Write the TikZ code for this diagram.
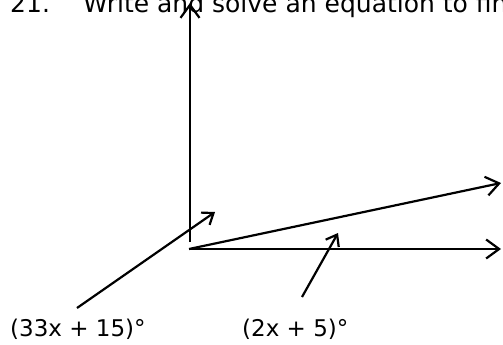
\documentclass[tikz,border=0pt]{standalone}
\usepackage{fontspec}
\setmainfont{DejaVu Sans}
\usetikzlibrary{arrows.meta}
\tikzset{
  ray/.style={line width=2.2pt, -{Straight Barb[length=13pt,width=19pt,line width=2.2pt]}},
  pointer/.style={line width=2.2pt, -{Straight Barb[length=10pt,width=15pt,line width=2.2pt]}},
  lbl/.style={inner sep=0pt, anchor=base west, font=\fontsize{23}{27}\selectfont},
  title/.style={inner sep=0pt, anchor=base west, font=\fontsize{25}{30}\selectfont}
}
\begin{document}
\begin{tikzpicture}[x=1pt,y=-1pt]
\useasboundingbox[fill=white] (0,0) rectangle (503,345);
% title (cut off at top, as in the reference)
\node[title] (num) at (10,13) {21.};
\node[title] (ttl) at (83,13) {Write and solve an equation to find};
% points
\coordinate (O) at (189,249);
\coordinate (Vb) at (190,242);
\coordinate (V) at (190,3);
\coordinate (H) at (501,249);
\coordinate (R) at (501,183);
% rays
\draw[ray] (Vb) -- (V);
\draw[ray] (O) -- (H);
\draw[ray] (O) -- (R);
% labels
\node[lbl] (L1) at (10,336) {(33x + 15)°};
\node[lbl] (L2) at (242,336) {(2x + 5)°};
\coordinate (P1s) at (77,308);
\coordinate (P1e) at (215,212);
\coordinate (P2s) at (302,297);
\coordinate (P2e) at (338,233);
\draw[pointer] (P1s) -- (P1e);
\draw[pointer] (P2s) -- (P2e);
\end{tikzpicture}
\end{document}
